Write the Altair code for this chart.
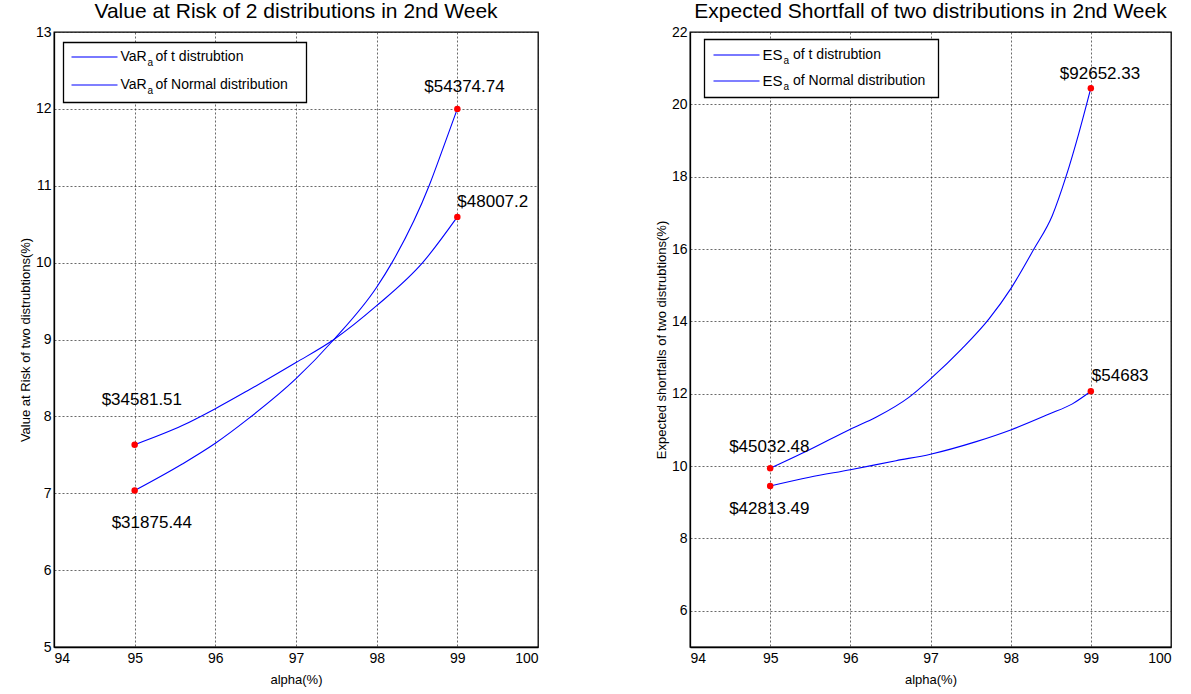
import altair as alt
import pandas as pd

FONT = "Liberation Sans"

# ---------------- data ----------------
x_ticks = [94, 95, 96, 97, 98, 99, 100]

# Left panel: Value at Risk (%)
var_t_alpha = [95, 95.59, 96, 96.41, 97, 97.47, 98, 98.19, 98.65, 98.82, 99]
var_t_value = [7.035, 7.38, 7.65, 7.97, 8.49, 9.0, 9.68, 10.0, 11.0, 11.48, 12.0]
var_n_alpha = [95, 95.59, 96, 96.41, 97, 97.47, 98, 98.57, 99]
var_n_value = [7.632, 7.88, 8.10, 8.34, 8.70, 9.0, 9.44, 10.0, 10.595]
var_pt_alpha = [99, 99, 95, 95]
var_pt_value = [12.0, 10.595, 7.632, 7.035]
var_pt_label = ["$54374.74", "$48007.2", "$34581.51", "$31875.44"]
var_y_ticks = [5, 6, 7, 8, 9, 10, 11, 12, 13]

# Right panel: Expected Shortfall (%)
es_t_alpha = [95, 95.49, 96, 96.32, 96.73, 97, 97.39, 97.73, 98, 98.29, 98.52, 98.69, 98.85, 99]
es_t_value = [9.938, 10.45, 11.02, 11.35, 11.90, 12.41, 13.24, 14.07, 14.9, 16.0, 16.93, 18.0, 19.2, 20.448]
es_n_alpha = [95, 95.49, 96, 96.57, 97, 97.56, 98, 98.48, 98.77, 99]
es_n_value = [9.449, 9.69, 9.90, 10.15, 10.33, 10.67, 11.0, 11.44, 11.72, 12.068]
es_pt_alpha = [99, 99, 95, 95]
es_pt_value = [20.448, 12.068, 9.938, 9.449]
es_pt_label = ["$92652.33", "$54683", "$45032.48", "$42813.49"]
es_y_ticks = [6, 8, 10, 12, 14, 16, 18, 20, 22]

# label offsets (dx, dy) in pixels, style only
var_offsets = [(-33, -17), (0, -10), (-33, -40), (-23, 37)]
es_offsets = [(-31, -9), (1, -10), (-41, -16), (-41, 28)]


def lines_frame(a1, v1, a2, v2):
    return pd.DataFrame({
        "alpha": a1 + a2,
        "value": v1 + v2,
        "series": ["t"] * len(a1) + ["normal"] * len(a2),
    })


def panel(lines_df, pts_df, offsets, title, ytitle, ydom, yvals, w, h, leg):
    xs = alt.Scale(domain=[94, 100], nice=False, zero=False)
    ys = alt.Scale(domain=ydom, nice=False, zero=False)
    x = alt.X("alpha:Q", scale=xs,
              axis=alt.Axis(values=x_ticks, title="alpha(%)", format="d"))
    y = alt.Y("value:Q", scale=ys,
              axis=alt.Axis(values=yvals, title=ytitle, format="d"))

    lines = alt.Chart(lines_df).mark_line(
        color="#0000ff", strokeWidth=1.1, interpolate="monotone"
    ).encode(x=x, y=y, detail="series:N")

    dots = alt.Chart(pts_df).mark_circle(
        color="#ff0000", size=42, opacity=1
    ).encode(x="alpha:Q", y="value:Q")

    layers = [lines, dots]
    for i, (dx, dy) in enumerate(offsets):
        layers.append(
            alt.Chart(pts_df.iloc[[i]]).mark_text(
                font=FONT, fontSize=17, color="black", align="left",
                baseline="alphabetic", dx=dx, dy=dy
            ).encode(x="alpha:Q", y="value:Q", text="label:N")
        )

    # legend box (drawn inside plot)
    bx0, by0, bx1, by1 = leg["box"]
    layers.append(
        alt.Chart().mark_rect(fill="white", stroke="black", strokeWidth=1.3).encode(
            x=alt.value(bx0), x2=alt.value(bx1), y=alt.value(by0), y2=alt.value(by1))
    )
    lx0, lx1 = leg["line"]
    for j, ly in enumerate(leg["rows"]):
        layers.append(
            alt.Chart().mark_rule(color="#0000ff",
                                  strokeWidth=1.5 if j == 0 else 1.2,
                                  opacity=0.7 if j == 0 else 1).encode(
                x=alt.value(lx0), x2=alt.value(lx1), y=alt.value(ly))
        )
        for (tx, txt, fs, ddy) in leg["texts"][j]:
            layers.append(
                alt.Chart().mark_text(
                    text=txt, font=FONT, fontSize=fs, color="black",
                    align="left", baseline="middle", dy=ddy
                ).encode(x=alt.value(tx), y=alt.value(ly))
            )

    return alt.layer(*layers).properties(
        width=w, height=h,
        title=alt.TitleParams(text=title, font=FONT, fontSize=21,
                              fontWeight="normal", anchor="middle", offset=3,
                              color="black"),
    )


var_lines = lines_frame(var_t_alpha, var_t_value, var_n_alpha, var_n_value)
var_pts = pd.DataFrame({"alpha": var_pt_alpha, "value": var_pt_value, "label": var_pt_label})
es_lines = lines_frame(es_t_alpha, es_t_value, es_n_alpha, es_n_value)
es_pts = pd.DataFrame({"alpha": es_pt_alpha, "value": es_pt_value, "label": es_pt_label})

var_leg = {
    "box": (9.5, 10.5, 252.5, 70.5),
    "line": (17.5, 63.5),
    "rows": [25, 53],
    "texts": [
        [(66.5, "VaR", 14, 0), (93.5, "a", 10, 6), (101.5, "of t distrubtion", 14, 0)],
        [(66.5, "VaR", 14, 0), (93.5, "a", 10, 6), (101.5, "of Normal distribution", 14, 0)],
    ],
}
es_leg = {
    "box": (14.5, 7.5, 248.5, 65.5),
    "line": (23.5, 69.5),
    "rows": [23, 49],
    "texts": [
        [(72.5, "ES", 15, 0), (93.5, "a", 10, 6), (103, "of t distrubtion", 14, 0)],
        [(72.5, "ES", 15, 0), (93.5, "a", 10, 6), (103, "of Normal distribution", 14, 0)],
    ],
}

left = panel(var_lines, var_pts, var_offsets,
             "Value at Risk of 2 distributions in 2nd Week",
             "Value at Risk of two distrubtions(%)",
             [5, 13], var_y_ticks, 484, 615, var_leg)
right = panel(es_lines, es_pts, es_offsets,
              "Expected Shortfall of two distributions in 2nd Week",
              "Expected shortfalls of two distrubtions(%)",
              [5, 22], es_y_ticks, 481, 615, es_leg)

chart = alt.hconcat(left, right, spacing=152, bounds="flush").properties(
    padding={"left": 18, "top": 0, "right": 0, "bottom": 0},
    background="white",
).configure_view(
    stroke="black", strokeWidth=1.3
).configure_axis(
    labelFont=FONT, labelFontSize=14, labelColor="black", labelPadding=3,
    titleFont=FONT, titleFontSize=13, titleFontWeight="normal", titleColor="black",
    titlePadding=3,
    domainColor="black", domainWidth=1.3,
    ticks=False,
    grid=True, gridColor="#222222", gridDash=[2, 2], gridWidth=0.8, gridOpacity=0.85,
).configure_axisX(
    labelPadding=4, titlePadding=8,
)

chart.save("out.html", embed_options={"renderer": "svg", "actions": False})
